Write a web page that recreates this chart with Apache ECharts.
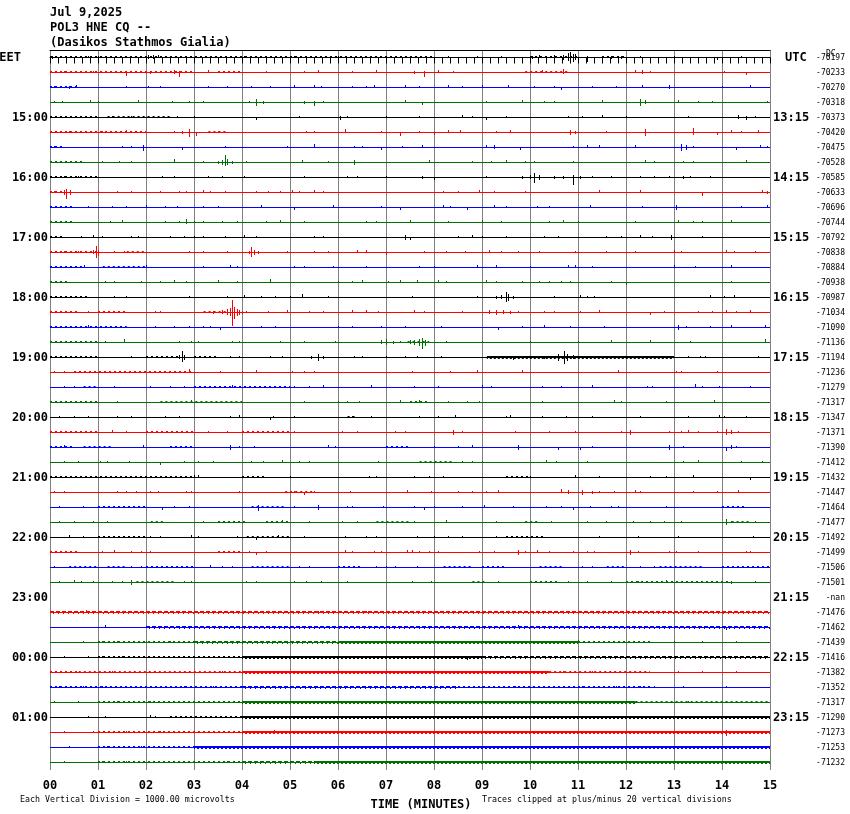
<!DOCTYPE html>
<html>
<head>
<meta charset="utf-8">
<script src="https://cdn.jsdelivr.net/npm/echarts@6/dist/echarts.min.js"></script>
<style>html,body{margin:0;padding:0;background:#fff;}#c{width:850px;height:814px;}</style>
</head>
<body>
<div id="c"></div>
<script>
// ---------- DATA ----------
const headerLines = ['Jul 9,2025', 'POL3 HNE CQ --', '(Dasikos Stathmos Gialia)'];
const minuteTicks = ['00','01','02','03','04','05','06','07','08','09','10','11','12','13','14','15'];
const traceColors = ['#000000', '#ff0000', '#0000ff', '#007000'];
const missingTraces = [36];
// left (EET) and right (UTC) hour labels, keyed by trace index
const eetLabels = {0:'EET',4:'15:00',8:'16:00',12:'17:00',16:'18:00',20:'19:00',24:'20:00',28:'21:00',32:'22:00',36:'23:00',40:'00:00',44:'01:00'};
const utcLabels = {0:'UTC',4:'13:15',8:'14:15',12:'15:15',16:'16:15',20:'17:15',24:'18:15',28:'19:15',32:'20:15',36:'21:15',40:'22:15',44:'23:15'};
const dcValues = ['-70197','-70233','-70270','-70318','-70373','-70420','-70475','-70528','-70585','-70633','-70696','-70744',
  '-70792','-70838','-70884','-70938','-70987','-71034','-71090','-71136','-71194','-71236','-71279','-71317',
  '-71347','-71371','-71390','-71412','-71432','-71447','-71464','-71477','-71492','-71499','-71506','-71501',
  '-nan','-71476','-71462','-71439','-71416','-71382','-71352','-71317','-71290','-71273','-71253','-71232'];
// amplitude units per trace spacing
const AMP = 15;
// spikes per trace: [minute, up, down]
const spikes = [
/*0*/ [[0.05,1,1],[0.8,1,0],[1.0,1,1],[2.05,2,1],[2.15,2,1],[2.25,2,0],[2.5,1,0],[4.05,1,0],[5.0,1,1],[5.1,1,0],[6.0,1,0],[8.3,1,0],[8.9,1,0],[9.4,1,0],[10.05,1,1],[10.2,2,0],[10.5,2,1],[10.7,2,2],[10.8,4,3],[10.85,5,5],[10.9,3,4],[10.95,3,2],[11.2,1,4],[11.7,1,1],[11.9,1,1],[12.3,1,0],[13.0,1,0],[13.5,0,2],[13.9,0,2],[14.4,1,0]],
/*1*/ [[0.3,1,0],[0.9,1,0],[1.6,1,3],[2.1,1,1],[2.6,2,1],[2.7,1,4],[3.3,2,0],[4.5,1,0],[5.3,1,0],[5.6,2,0],[6.3,1,0],[6.8,2,0],[7.6,1,1],[7.8,1,4],[8.1,2,0],[8.4,1,0],[10.25,2,0],[10.7,3,1],[12.2,2,0],[12.35,2,1],[12.5,1,0],[14.05,1,0],[14.5,0,2]],
/*2*/ [[0.1,1,0],[0.4,1,1],[0.55,2,0],[1.6,1,0],[2.05,1,0],[2.3,1,0],[3.3,1,0],[3.7,1,0],[4.2,1,0],[4.6,1,0],[5.1,2,0],[5.5,2,0],[5.65,1,0],[6.3,1,0],[6.6,1,0],[6.75,2,0],[7.4,2,0],[7.7,1,0],[8.3,2,0],[8.6,1,0],[9.0,2,0],[9.55,2,0],[10.1,1,0],[10.5,1,0],[10.65,0,2],[11.3,1,0],[11.8,1,0],[12.35,2,0],[12.9,2,1],[14.0,1,0],[14.6,2,0]],
/*3*/ [[0.1,1,0],[0.25,1,0],[0.85,2,0],[1.0,1,0],[1.85,2,0],[2.55,1,0],[2.9,1,0],[3.2,1,0],[4.15,1,0],[4.3,3,3],[4.45,1,1],[5.3,1,1],[5.5,1,3],[5.7,1,0],[7.4,2,0],[7.75,0,2],[9.1,1,0],[9.85,2,0],[10.3,1,0],[10.5,1,0],[11.5,2,0],[12.3,3,3],[12.4,2,1],[13.1,2,0],[13.5,1,0],[13.8,1,0],[14.95,1,0]],
/*4*/ [[0.85,1,0],[1.3,1,0],[1.7,1,0],[2.65,1,0],[3.0,1,0],[4.3,0,2],[5.2,1,0],[6.05,1,2],[6.2,1,0],[7.0,1,0],[7.7,1,0],[8.6,2,0],[8.8,1,0],[9.1,0,2],[9.5,1,0],[10.8,1,0],[11.1,1,0],[11.5,2,0],[12.0,1,0],[13.3,1,0],[14.35,2,1],[14.5,1,2],[14.7,1,0]],
/*5*/ [[0.4,1,0],[1.1,1,0],[1.6,2,0],[2.6,1,0],[2.75,1,1],[2.9,3,4],[3.05,0,3],[3.5,1,0],[5.35,1,0],[5.5,1,0],[6.15,3,0],[6.9,1,0],[7.3,0,3],[7.7,1,0],[8.0,0,2],[8.3,2,0],[8.55,2,0],[9.3,1,0],[9.6,2,0],[10.85,2,2],[10.95,1,1],[11.6,1,0],[12.4,3,3],[13.4,4,2],[13.9,0,2],[14.2,2,0],[14.4,1,0],[14.75,2,0]],
/*6*/ [[0.1,1,0],[1.5,1,0],[1.7,1,0],[1.95,2,3],[2.75,0,2],[3.65,1,0],[4.95,1,0],[5.5,3,0],[6.35,1,0],[6.5,1,0],[6.9,0,2],[7.35,1,0],[7.75,2,0],[9.1,2,0],[9.25,2,1],[9.8,0,2],[10.9,1,0],[11.2,2,0],[11.45,2,0],[12.2,2,0],[13.15,3,3],[13.25,2,2],[13.4,1,0],[14.3,0,2],[14.8,2,0],[14.95,1,0]],
/*7*/ [[0.35,1,0],[1.1,1,0],[1.45,1,0],[1.7,1,0],[2.6,3,0],[3.2,1,0],[3.5,1,1],[3.6,2,2],[3.65,7,3],[3.7,3,2],[3.8,1,1],[4.1,1,0],[5.25,2,0],[5.8,1,0],[6.35,2,2],[7.9,2,0],[8.8,1,0],[9.2,1,0],[9.5,2,0],[9.9,1,0],[10.1,1,0],[10.9,1,0],[12.4,2,0],[12.6,1,0],[13.2,1,0],[13.4,1,0],[14.5,2,0]],
/*8*/ [[0.3,1,0],[0.6,1,0],[2.35,1,0],[2.6,1,0],[3.3,1,0],[3.6,1,0],[4.05,1,0],[5.3,1,0],[6.2,1,0],[6.4,1,0],[7.0,1,0],[7.75,1,1],[8.0,0,2],[9.1,1,0],[9.85,1,1],[10.0,2,1],[10.1,4,5],[10.2,2,2],[10.5,1,1],[10.7,1,1],[10.9,2,7],[11.05,1,1],[11.3,1,0],[11.7,1,0],[12.3,1,0],[12.6,1,0],[12.9,1,0],[13.2,1,1],[13.35,1,0],[13.75,1,0]],
/*9*/ [[0.1,1,0],[0.3,2,2],[0.35,3,6],[0.42,2,2],[1.0,1,0],[1.4,1,0],[1.7,1,0],[2.3,1,0],[2.7,1,0],[2.85,1,0],[3.2,2,0],[3.35,1,0],[3.65,1,0],[4.3,1,0],[4.55,1,0],[4.8,1,0],[5.05,2,0],[5.2,1,0],[5.5,2,0],[5.7,1,0],[8.2,1,0],[8.5,1,0],[8.95,2,0],[9.25,1,0],[9.9,1,0],[11.45,2,0],[12.3,2,0],[13.6,0,3],[14.85,2,0],[14.95,1,1]],
/*10*/ [[0.8,1,0],[1.3,1,0],[1.6,1,0],[2.0,2,0],[2.4,1,0],[2.65,1,0],[3.2,1,0],[3.5,1,0],[4.4,2,0],[5.1,0,2],[5.9,2,0],[6.9,1,0],[7.3,0,2],[8.2,2,0],[8.35,1,0],[8.7,0,2],[9.25,2,0],[9.5,1,0],[10.15,1,0],[10.4,1,0],[11.25,2,0],[12.35,1,0],[13.05,2,2],[14.4,1,0],[14.95,2,0]],
/*11*/ [[1.25,1,0],[1.5,2,0],[2.4,1,0],[2.7,1,0],[2.85,3,1],[3.0,1,0],[3.2,1,0],[3.6,1,0],[3.9,1,0],[4.5,1,0],[4.8,2,0],[5.3,1,0],[6.6,1,0],[6.8,1,0],[7.5,2,0],[8.3,1,0],[9.0,2,0],[9.4,1,0],[10.4,1,0],[10.7,2,0],[11.0,1,0],[12.2,1,0],[13.1,2,0],[13.4,1,0],[13.6,1,0],[14.2,2,0]],
/*12*/ [[0.65,1,0],[0.9,2,0],[1.1,1,0],[1.7,1,0],[1.85,1,0],[2.5,1,0],[2.8,1,0],[3.0,1,0],[3.2,1,0],[3.65,1,0],[4.05,2,0],[4.3,1,0],[5.5,1,0],[5.7,1,0],[7.4,2,2],[7.5,0,2],[8.5,1,0],[8.8,2,0],[9.0,1,0],[9.5,1,0],[10.3,1,0],[10.6,1,0],[11.6,1,0],[11.9,1,0],[12.3,2,0],[12.55,1,0],[12.95,2,2],[13.6,1,0]],
/*13*/ [[0.3,1,0],[0.6,1,0],[0.9,2,1],[0.97,6,5],[1.02,2,3],[1.35,1,0],[1.55,1,0],[2.9,1,0],[3.2,1,0],[3.7,1,0],[4.15,1,1],[4.2,5,4],[4.27,2,2],[4.35,1,1],[4.95,1,0],[5.5,1,0],[5.8,1,0],[6.4,2,0],[6.6,2,0],[7.0,0,2],[7.8,1,0],[8.25,1,0],[8.65,1,0],[9.15,2,0],[9.4,1,0],[9.75,1,0],[10.2,1,0],[10.95,1,0],[11.6,1,0],[12.2,1,0],[13.0,2,0],[13.15,1,0],[14.1,2,0],[14.25,1,0],[14.7,1,0]],
/*14*/ [[0.72,2,0],[2.0,2,0],[3.2,1,0],[3.75,2,0],[3.9,1,0],[5.1,1,0],[5.3,1,0],[5.9,1,0],[6.6,1,0],[7.7,1,0],[8.0,1,0],[8.9,2,0],[9.3,2,0],[10.0,1,0],[10.8,2,0],[10.95,2,0],[11.3,1,0],[13.0,2,0],[13.45,1,0],[14.2,2,0]],
/*15*/ [[1.15,1,0],[1.35,1,0],[1.9,1,0],[2.3,1,0],[2.6,2,0],[2.85,1,0],[3.5,2,0],[3.9,1,0],[4.6,3,0],[6.0,1,0],[6.3,1,0],[6.5,2,0],[7.05,1,0],[7.3,2,0],[7.65,2,0],[8.1,2,0],[8.25,1,0],[9.1,2,0],[9.3,1,0],[9.85,1,0],[10.2,1,0],[10.4,1,0],[10.65,1,0],[10.85,1,0],[11.7,1,0],[12.0,0,2],[14.2,1,0]],
/*16*/ [[1.35,1,0],[1.6,1,0],[2.9,1,0],[3.7,1,0],[4.05,2,0],[4.4,1,0],[4.7,1,0],[5.0,1,0],[5.25,3,0],[5.8,1,0],[7.55,1,0],[8.9,1,0],[9.3,1,1],[9.4,2,1],[9.5,5,4],[9.55,3,3],[9.65,1,1],[10.5,1,0],[11.05,2,0],[11.2,1,0],[11.35,1,0],[13.75,2,0],[14.05,1,0],[14.25,2,0]],
/*17*/ [[0.8,1,0],[2.2,1,0],[2.3,1,0],[3.4,1,1],[3.6,2,1],[3.7,3,2],[3.75,4,3],[3.8,12,13],[3.85,5,6],[3.9,3,3],[3.95,2,2],[4.0,1,1],[4.1,1,0],[4.55,1,0],[4.95,2,0],[5.4,1,0],[5.7,1,0],[6.3,2,0],[6.6,2,0],[6.85,1,0],[7.6,2,0],[7.8,1,0],[8.6,1,0],[9.15,2,1],[9.3,2,2],[9.45,2,1],[9.6,1,1],[9.75,1,0],[10.3,1,0],[10.5,1,0],[11.05,1,0],[11.45,2,0],[12.5,0,2],[12.8,1,0],[13.5,1,0],[13.8,1,0],[14.1,2,0],[14.3,1,0],[14.6,2,0]],
/*18*/ [[0.8,2,0],[2.2,1,0],[2.6,1,0],[2.9,1,0],[3.2,1,0],[3.35,1,0],[3.55,0,2],[4.4,1,0],[4.7,1,0],[6.0,1,0],[6.3,1,0],[6.9,1,0],[7.4,1,0],[8.15,1,0],[9.35,0,2],[9.85,1,0],[10.3,2,0],[10.85,1,0],[11.55,1,0],[13.1,2,2],[13.25,1,0],[13.75,1,0],[14.2,2,0],[14.9,2,0]],
/*19*/ [[1.15,1,0],[1.55,3,0],[2.7,1,0],[2.95,1,0],[3.1,1,0],[3.8,1,0],[3.95,1,0],[4.8,1,0],[5.3,1,0],[5.95,1,0],[6.9,2,1],[7.0,3,2],[7.15,1,1],[7.3,1,0],[7.5,2,1],[7.6,2,2],[7.7,3,3],[7.75,4,6],[7.82,2,3],[8.25,1,0],[9.0,1,0],[10.0,1,0],[11.0,1,0],[11.7,2,0],[12.5,2,0],[13.35,1,0],[14.9,3,0]],
/*20*/ [[1.7,1,0],[2.7,2,1],[2.75,6,4],[2.8,2,2],[3.75,1,0],[3.95,1,0],[4.6,1,0],[4.85,1,0],[5.45,1,1],[5.6,3,3],[5.7,1,1],[6.35,1,0],[6.5,1,0],[7.0,1,0],[7.4,1,0],[7.65,1,0],[8.15,1,0],[9.65,0,2],[10.3,1,1],[10.6,3,3],[10.72,6,6],[10.78,3,3],[10.9,2,1],[11.2,1,1],[11.5,1,1],[12.7,1,0],[13.3,1,0],[13.55,1,0],[13.65,1,0],[14.75,1,0]],
/*21*/ [[0.1,1,0],[0.3,1,0],[2.9,3,0],[3.55,1,0],[4.0,1,0],[4.3,2,0],[5.05,1,0],[5.3,1,0],[5.5,1,0],[7.55,1,0],[8.35,1,0],[8.9,2,0],[9.85,2,0],[11.85,2,0],[13.05,1,0],[13.15,1,0],[13.9,1,0]],
/*22*/ [[0.3,1,0],[0.5,1,0],[1.35,1,0],[2.1,1,0],[2.5,1,0],[2.8,1,0],[3.8,2,0],[5.1,1,0],[5.4,1,0],[5.7,2,0],[6.7,2,0],[7.6,1,0],[8.1,1,0],[9.0,2,0],[9.2,1,0],[10.25,1,0],[10.65,1,0],[11.3,2,0],[12.45,1,0],[12.55,1,0],[13.45,3,0],[13.6,1,0],[13.95,1,0],[14.6,1,0]],
/*23*/ [[1.4,1,0],[2.95,2,0],[5.3,1,0],[6.0,1,0],[6.2,1,0],[6.45,1,0],[7.3,2,0],[7.7,2,0],[8.3,1,0],[8.7,1,0],[8.95,1,0],[10.25,1,0],[11.75,2,0],[11.9,1,0],[12.85,1,0],[13.85,2,0]],
/*24*/ [[0.2,1,0],[0.5,1,0],[0.8,1,0],[1.4,1,0],[1.7,1,0],[2.4,1,0],[2.7,1,0],[3.75,1,0],[3.95,2,0],[4.6,0,2],[4.65,1,0],[5.1,1,0],[6.3,1,0],[6.7,1,0],[7.7,1,0],[8.1,1,0],[8.45,2,0],[9.5,1,0],[9.6,2,0],[10.25,1,0],[10.75,1,0],[11.3,1,0],[12.3,1,0],[13.3,1,0],[13.95,2,0],[14.05,1,0],[14.5,1,0]],
/*25*/ [[1.3,2,0],[1.6,1,0],[3.3,1,0],[3.7,1,0],[5.1,1,0],[6.1,1,0],[6.4,1,0],[7.2,1,0],[7.4,1,0],[8.4,2,2],[8.6,1,0],[9.0,1,0],[9.7,1,0],[10.4,1,0],[10.95,1,0],[11.9,1,0],[12.1,2,2],[12.9,1,0],[13.15,1,0],[13.3,2,0],[13.5,1,0],[13.9,1,0],[14.1,3,2],[14.2,2,1],[14.35,1,0]],
/*26*/ [[0.3,2,0],[1.95,2,0],[3.75,2,2],[3.95,1,0],[4.25,1,0],[5.8,2,0],[5.95,1,0],[8.0,1,0],[8.5,1,0],[8.8,2,0],[9.75,2,2],[10.6,0,2],[11.05,0,2],[11.3,1,0],[12.9,2,2],[13.2,1,0],[14.1,0,3],[14.2,2,1],[14.3,1,0]],
/*27*/ [[0.3,1,0],[0.6,1,0],[1.05,1,0],[1.2,1,0],[1.65,1,0],[2.3,0,2],[2.8,1,0],[3.1,1,0],[3.4,1,0],[4.2,1,0],[4.45,1,0],[4.85,2,0],[5.2,1,0],[5.4,1,0],[6.85,1,0],[8.6,1,0],[8.8,1,0],[9.0,1,0],[10.35,2,0],[10.55,1,0],[11.2,1,0],[13.2,1,0],[13.5,2,0],[14.4,1,0],[14.85,1,0]],
/*28*/ [[3.0,2,0],[3.1,2,0],[5.0,1,0],[6.65,1,0],[6.8,1,0],[7.6,1,0],[7.9,1,0],[8.2,1,0],[10.0,1,0],[10.95,2,0],[11.45,1,0],[12.5,1,0],[12.85,1,0],[13.4,2,0],[14.6,0,2]],
/*29*/ [[0.1,1,0],[0.3,1,0],[1.4,1,0],[1.6,1,0],[1.8,1,0],[2.1,1,0],[2.25,1,0],[2.85,1,0],[2.95,1,0],[3.95,1,0],[5.1,1,0],[5.3,0,2],[5.5,1,0],[6.25,1,0],[7.45,2,0],[7.95,1,0],[8.5,1,0],[8.8,1,0],[9.1,1,0],[9.35,2,0],[10.65,3,0],[10.8,2,1],[11.1,2,2],[11.3,1,1],[11.45,1,0],[11.75,1,0],[12.2,2,0],[12.3,1,0],[13.4,1,0],[13.9,1,0],[14.35,2,0]],
/*30*/ [[0.2,1,0],[0.7,1,0],[2.35,0,2],[2.6,1,0],[2.9,1,0],[4.35,2,3],[5.1,1,0],[5.6,2,2],[6.2,1,0],[6.3,1,0],[6.95,1,0],[7.6,1,0],[7.8,0,2],[8.0,1,0],[8.6,1,0],[9.05,2,0],[9.65,1,0],[10.35,1,0],[10.65,1,0],[10.9,0,2],[11.25,1,0],[11.7,1,0],[11.85,1,0],[12.85,1,0]],
/*31*/ [[0.2,1,0],[0.5,1,0],[0.9,1,0],[1.2,1,0],[3.2,1,0],[4.85,2,0],[5.4,1,0],[6.1,1,0],[6.4,1,0],[7.6,1,0],[8.25,2,0],[9.3,1,0],[10.45,1,0],[11.2,1,0],[11.6,1,0],[12.15,1,0],[12.5,1,0],[12.8,1,0],[13.15,1,0],[14.1,3,2],[14.2,1,0],[14.7,1,0]],
/*32*/ [[0.4,2,0],[0.7,1,0],[2.1,1,0],[2.3,1,0],[2.95,2,0],[3.1,1,0],[3.9,1,0],[4.3,0,2],[4.75,2,0],[5.3,1,0],[6.15,1,0],[6.6,1,0],[6.8,1,0],[7.65,1,0],[8.0,1,0],[8.3,1,0],[8.6,1,0],[9.3,1,0],[11.45,1,0],[12.25,1,0],[13.1,1,0],[14.65,1,0]],
/*33*/ [[1.1,1,0],[1.35,2,0],[1.7,1,0],[1.9,1,0],[2.1,1,0],[4.15,1,0],[4.3,0,2],[4.5,1,0],[6.15,2,0],[6.3,1,0],[6.75,1,0],[6.9,1,0],[7.45,2,0],[7.55,2,0],[7.7,1,0],[7.9,1,0],[8.1,1,0],[8.95,1,0],[9.25,1,0],[9.75,2,2],[9.9,1,0],[10.15,2,0],[10.4,1,0],[10.9,1,0],[11.2,1,0],[11.35,1,0],[12.1,2,2],[12.25,1,0],[12.9,1,0],[13.05,1,0],[13.5,1,0],[14.5,1,0],[14.6,1,0]],
/*34*/ [[0.1,1,0],[1.7,1,0],[1.9,1,0],[3.35,2,0],[3.6,1,0],[3.8,1,0],[5.2,1,0],[5.4,1,0],[6.8,1,0],[7.0,1,0],[7.2,1,0],[7.65,1,0],[11.1,1,0],[11.3,1,0],[12.3,1,0],[12.6,1,0]],
/*35*/ [[0.2,1,0],[0.5,2,0],[0.65,1,0],[0.9,1,0],[1.3,1,0],[1.5,1,0],[1.7,2,2],[2.8,1,0],[2.95,1,0],[4.1,1,0],[4.3,1,0],[5.1,1,0],[5.35,1,0],[5.65,1,0],[6.2,1,0],[7.55,1,0],[7.95,1,0],[9.35,1,0],[10.8,1,0],[11.2,1,0],[11.7,1,0],[12.25,1,0],[12.85,2,0],[13.8,1,0],[14.2,1,1],[14.7,1,0]],
/*36*/ [],
/*37*/ [[0.75,2,0],[1.7,1,0],[2.3,1,0],[3.3,1,0],[4.5,1,0],[5.6,1,0],[6.6,1,0],[12.0,2,0]],
/*38*/ [[1.15,2,0],[9.75,2,0],[14.1,0,2]],
/*39*/ [[0.7,1,0],[1.1,1,0],[1.4,1,0],[2.0,1,0],[2.5,1,0],[11.0,2,0],[13.0,1,0],[13.6,1,0],[14.3,1,0]],
/*40*/ [[0.3,1,0],[0.8,1,0],[1.1,1,0],[1.5,1,0],[8.7,0,2]],
/*41*/ [[1.3,1,0],[2.2,1,0],[2.9,1,0],[3.6,1,0],[10.7,1,0],[11.3,1,0],[13.1,1,0],[13.6,1,0],[14.3,1,0]],
/*42*/ [[0.2,1,0],[0.7,1,0],[1.1,1,0],[1.7,1,0],[2.3,1,0],[2.8,1,0],[3.4,1,0],[9.0,1,0],[9.7,1,0],[10.4,1,0],[11.1,1,0],[11.8,1,0],[12.3,1,0],[12.6,1,0],[13.2,1,0],[14.1,1,0]],
/*43*/ [[0.1,1,0],[0.6,1,0],[1.4,1,0],[2.1,1,0],[2.8,1,0],[3.5,1,0],[13.3,1,0],[14.4,1,0]],
/*44*/ [[0.8,1,0],[1.15,1,0],[2.1,2,0],[2.2,1,0]],
/*45*/ [[0.3,1,0],[0.9,1,0],[1.6,1,0],[2.3,1,0],[3.0,1,0],[3.5,1,0],[4.68,2,1],[14.1,2,3]],
/*46*/ [[0.4,1,0],[1.2,1,0],[1.9,1,0],[2.6,1,0]],
/*47*/ [[0.3,1,0],[1.1,1,0],[1.6,1,0],[2.7,1,0],[3.2,1,0],[3.7,1,0]]
];
// noisy stretches per trace: [startMinute, endMinute, level]
const noise = [
/*0*/ [[0,8.0,1],[10.0,11.0,1],[11.5,12.0,1]],
/*1*/ [[0,3.0,1],[3.5,4.0,1],[9.9,10.8,1]],
/*2*/ [[0,0.6,1]],
/*3*/ [],
/*4*/ [[0,1.0,1],[1.2,2.5,1]],
/*5*/ [[0,2.0,1],[3.3,3.7,1]],
/*6*/ [[0,0.3,1]],
/*7*/ [[0,0.7,1]],
/*8*/ [[0,1.0,1]],
/*9*/ [[0,0.3,1]],
/*10*/ [[0,0.5,1]],
/*11*/ [[0,0.5,1]],
/*12*/ [[0,0.3,1]],
/*13*/ [[0,1.0,1],[1.6,2.0,1]],
/*14*/ [[0,0.7,1],[1.1,2.0,1]],
/*15*/ [[0,0.4,1]],
/*16*/ [[0,0.8,1]],
/*17*/ [[0,0.6,1],[1.0,1.6,1],[3.2,3.7,1]],
/*18*/ [[0,1.6,1]],
/*19*/ [[0,1.0,1],[7.45,7.9,1]],
/*20*/ [[0,1.0,1],[2.0,2.7,1],[3.0,3.5,1],[9.1,13.0,2]],
/*21*/ [[0.5,3.0,1]],
/*22*/ [[0.7,1.0,1],[3.0,5.0,1]],
/*23*/ [[0,1.0,1],[2.3,4.0,1],[7.5,7.9,1]],
/*24*/ [[6.2,6.4,1]],
/*25*/ [[0,1.0,1],[2.0,3.0,1],[4.0,5.0,1]],
/*26*/ [[0,0.5,1],[0.7,1.3,1],[2.5,3.0,1],[7.0,7.5,1]],
/*27*/ [[7.7,8.4,1]],
/*28*/ [[0,3.0,1],[4.0,4.5,1],[9.5,10.0,1]],
/*29*/ [[4.9,5.5,1]],
/*30*/ [[1.0,2.0,1],[4.2,4.9,1],[14.0,14.5,1]],
/*31*/ [[2.1,2.4,1],[3.5,4.1,1],[4.5,5.0,1],[6.8,7.5,1],[9.9,10.2,1],[14.2,14.6,1]],
/*32*/ [[1.0,2.0,1],[4.1,5.0,1],[9.5,10.3,1]],
/*33*/ [[0,0.6,1],[3.5,4.0,1]],
/*34*/ [[0.4,1.0,1],[1.2,1.6,1],[2.0,3.0,1],[4.2,5.0,1],[6.0,6.5,1],[8.2,8.8,1],[9.0,9.5,1],[10.2,10.7,1],[11.6,12.0,1],[12.7,13.6,1],[14.0,15.0,1]],
/*35*/ [[1.8,2.6,1],[8.8,9.1,1],[10.0,10.6,1],[12.0,14.2,1]],
/*36*/ [],
/*37*/ [[0,15,1.5]],
/*38*/ [[2.0,15,1.5]],
/*39*/ [[1.0,3.0,1],[3.0,6.0,1.5],[6.0,11.0,2],[11.0,12.5,1]],
/*40*/ [[1.0,4.0,1],[4.0,9.0,2],[9.0,15,1.5]],
/*41*/ [[0,0.6,1],[0.6,4.0,1],[4.0,10.4,2],[10.4,12.5,1]],
/*42*/ [[0,4.0,1],[4.0,8.5,1.5],[8.5,12.5,1]],
/*43*/ [[1.0,4.0,1],[4.0,12.2,2],[12.2,15,1]],
/*44*/ [[2.5,4.0,1],[4.0,15,2]],
/*45*/ [[1.0,4.0,1],[4.0,15,2]],
/*46*/ [[1.0,3.0,1],[3.0,15,2]],
/*47*/ [[1.0,4.0,1],[4.0,5.5,1.5],[5.5,15,2]]
];
const footLeft = 'Each Vertical Division = 1000.00 microvolts';
const footRight = 'Traces clipped at plus/minus 20 vertical divisions';
const axisName = 'TIME (MINUTES)';

// ---------- CHART ----------
const MONO = '"DejaVu Sans Mono", "Liberation Mono", monospace';
const traceIdx = [];
for (let i = 0; i < dcValues.length; i++) traceIdx.push(i);
const traceData = traceIdx.filter(i => missingTraces.indexOf(i) < 0).map(i => [i]);

function hline(p, q, dy, color, dash, offset) {
  return {type: 'line', shape: {x1: p[0], y1: p[1] + dy, x2: q[0], y2: q[1] + dy},
    style: {stroke: color, lineWidth: 1, lineDash: dash || null, lineDashOffset: offset || 0}};
}
function renderItem(params, api) {
  const i = api.value(0);
  const color = traceColors[i % 4];
  const children = [];
  const a0 = api.coord([0, i]), a1 = api.coord([15, i]);
  children.push(hline(a0, a1, 0, color));
  (noise[i] || []).forEach(function (n) {
    const p = api.coord([n[0], i]), q = api.coord([n[1], i]);
    const lv = n[2];
    if (lv >= 2) {
      children.push(hline(p, q, -1, color));
      children.push(hline(p, q, 1, color, [2, 2], 1));
    } else if (lv >= 1.5) {
      children.push(hline(p, q, -1, color, [4, 2], 0));
      children.push(hline(p, q, 1, color, [1, 4], 2));
    } else {
      children.push(hline(p, q, -1, color, [2, 3], 0));
    }
  });
  (spikes[i] || []).forEach(function (s) {
    const top = api.coord([s[0], i - s[1] / AMP]);
    const bot = api.coord([s[0], i + s[2] / AMP]);
    const x = Math.floor(top[0]);
    children.push({type: 'rect', shape: {x: x, y: top[1] - 0.5, width: 1, height: bot[1] - top[1] + 1}, style: {fill: color}});
  });
  return {type: 'group', children: children};
}

const chart = echarts.init(document.getElementById('c'), null, {renderer: 'canvas'});
const labelFont = {fontFamily: MONO, fontWeight: 'bold', fontSize: 12, color: '#000'};
chart.setOption({
  animation: false,
  backgroundColor: '#ffffff',
  title: [
    {text: headerLines.join('\n'), left: 50, top: 5, padding: 0, textStyle: {fontFamily: MONO, fontWeight: 'bold', fontSize: 12, lineHeight: 15, color: '#000'}},
    {text: 'DC', left: 826, top: 50, padding: 0, textStyle: {fontFamily: MONO, fontWeight: 'normal', fontSize: 8, color: '#000'}},
    {text: footLeft, left: 20, top: 796, padding: 0, textStyle: {fontFamily: MONO, fontWeight: 'normal', fontSize: 8.3, color: '#000'}},
    {text: footRight, left: 482, top: 796, padding: 0, textStyle: {fontFamily: MONO, fontWeight: 'normal', fontSize: 8.3, color: '#000'}}
  ],
  grid: {left: 50, top: 50, width: 720, height: 720, containLabel: false, outerBoundsMode: 'none'},
  xAxis: [
    {
      type: 'value', min: 0, max: 15, interval: 1, position: 'bottom',
      axisLine: {show: true, lineStyle: {color: '#000', width: 1}},
      axisTick: {show: true, length: 6, lineStyle: {color: '#000'}},
      minorTick: {show: true, splitNumber: 6, length: 6, lineStyle: {color: '#000'}},
      splitLine: {show: true, lineStyle: {color: '#808080', width: 1}},
      axisLabel: Object.assign({margin: 10, formatter: function (v) { return minuteTicks[Math.round(v)]; }}, labelFont),
      name: axisName, nameLocation: 'middle', nameGap: 29,
      nameTextStyle: Object.assign({padding: [0, 0, 0, 22]}, labelFont)
    },
    {
      type: 'value', min: 0, max: 15, position: 'top',
      axisLine: {show: true, lineStyle: {color: '#000', width: 1}},
      axisTick: {show: false}, minorTick: {show: false}, axisLabel: {show: false}, splitLine: {show: false}
    }
  ],
  yAxis: [
    {type: 'value', min: -0.5, max: 47.5, inverse: true, show: false},
    {
      type: 'category', position: 'left', inverse: true, data: traceIdx.map(i => eetLabels[i] || ''),
      axisLine: {show: false}, axisTick: {show: false}, splitLine: {show: false},
      axisLabel: Object.assign({interval: 0, margin: 2, formatter: function (v) { return v === 'EET' ? '{e|EET}' : v; },
        rich: {e: {fontFamily: MONO, fontWeight: 'bold', fontSize: 12, color: '#000', padding: [0, 27, 0, 0]}}}, labelFont)
    },
    {
      type: 'category', position: 'right', inverse: true, data: traceIdx.map(i => utcLabels[i] || ''),
      axisLine: {show: false}, axisTick: {show: false}, splitLine: {show: false},
      axisLabel: Object.assign({interval: 0, margin: 3, formatter: function (v) { return v === 'UTC' ? '{u|UTC}' : v; },
        rich: {u: {fontFamily: MONO, fontWeight: 'bold', fontSize: 12, color: '#000', padding: [0, 0, 0, 12]}}}, labelFont)
    },
    {
      type: 'category', position: 'right', offset: 76, inverse: true, data: dcValues,
      axisLine: {show: false}, axisTick: {show: false}, splitLine: {show: false},
      axisLabel: {interval: 0, inside: true, margin: 1, fontFamily: MONO, fontSize: 8, color: '#000'}
    }
  ],
  series: [{
    type: 'custom', xAxisIndex: 0, yAxisIndex: 0, silent: true, clip: false,
    renderItem: renderItem, data: traceData
  }]
});
</script>
</body>
</html>
